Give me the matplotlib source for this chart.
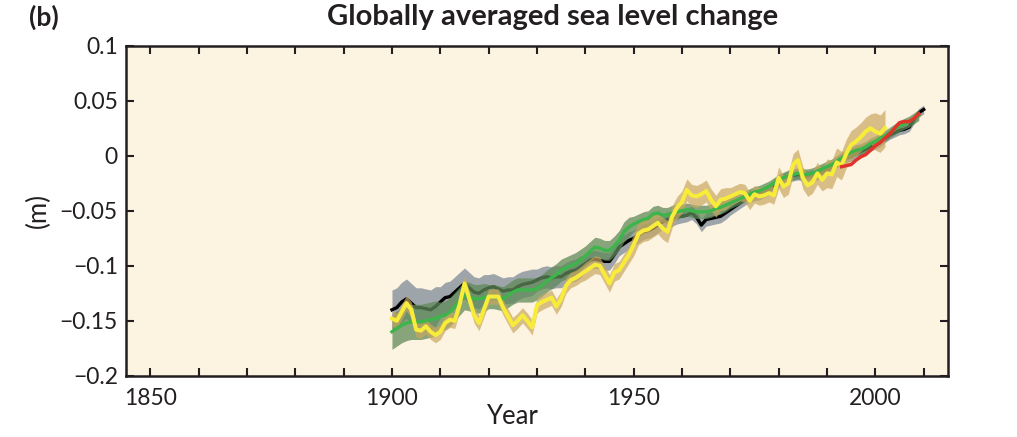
import matplotlib
matplotlib.use("Agg")
import matplotlib.pyplot as plt
import numpy as np

plt.rcParams["font.family"] = ["Lato", "DejaVu Sans"]

# Church & White (black line, grey band)
cw_years = list(range(1900, 2011))
cw_level = [
    -0.140, -0.138, -0.133, -0.130, -0.134, -0.138, -0.138, -0.139, -0.140, -0.137,
    -0.133, -0.129, -0.128, -0.124, -0.120, -0.116, -0.120, -0.124, -0.125, -0.122,
    -0.120, -0.119, -0.121, -0.123, -0.122, -0.122, -0.119, -0.117, -0.116, -0.115,
    -0.113, -0.111, -0.110, -0.111, -0.110, -0.110, -0.107, -0.105, -0.104, -0.101,
    -0.098, -0.095, -0.094, -0.095, -0.096, -0.096, -0.090, -0.083, -0.080, -0.077,
    -0.075, -0.072, -0.069, -0.068, -0.066, -0.063, -0.060, -0.058, -0.057, -0.055,
    -0.055, -0.054, -0.052, -0.056, -0.063, -0.058, -0.057, -0.056, -0.055, -0.052,
    -0.049, -0.046, -0.043, -0.040, -0.037, -0.036, -0.035, -0.033, -0.031, -0.027,
    -0.024, -0.021, -0.019, -0.018, -0.017, -0.018, -0.019, -0.018, -0.017, -0.015,
    -0.013, -0.010, -0.007, -0.004, -0.002, -0.001, 0.002, 0.004, 0.006, 0.008,
    0.010, 0.012, 0.016, 0.019, 0.021, 0.023, 0.024, 0.026, 0.033, 0.039,
    0.042,
]
# half-width of the band, one value per decade (1900s ... 2010)
cw_err_decade = [0.018, 0.014, 0.012, 0.010, 0.008, 0.007, 0.006, 0.005, 0.005, 0.004, 0.004, 0.004]

# Ray & Douglas (green line, green band)
rd_years = list(range(1900, 2010))
rd_level = [
    -0.160, -0.157, -0.154, -0.152, -0.151, -0.151, -0.151, -0.150, -0.149, -0.148,
    -0.146, -0.145, -0.142, -0.137, -0.132, -0.127, -0.128, -0.130, -0.130, -0.129,
    -0.128, -0.128, -0.129, -0.130, -0.127, -0.124, -0.122, -0.122, -0.122, -0.122,
    -0.121, -0.118, -0.114, -0.111, -0.108, -0.104, -0.102, -0.100, -0.098, -0.095,
    -0.091, -0.087, -0.083, -0.084, -0.086, -0.086, -0.082, -0.077, -0.069, -0.065,
    -0.062, -0.060, -0.058, -0.057, -0.053, -0.052, -0.054, -0.054, -0.052, -0.051,
    -0.050, -0.049, -0.050, -0.051, -0.051, -0.051, -0.050, -0.048, -0.047, -0.045,
    -0.043, -0.041, -0.039, -0.037, -0.035, -0.033, -0.032, -0.030, -0.028, -0.025,
    -0.022, -0.020, -0.018, -0.017, -0.016, -0.017, -0.017, -0.016, -0.014, -0.012,
    -0.010, -0.008, -0.005, -0.002, 0.001, 0.003, 0.005, 0.006, 0.008, 0.011,
    0.013, 0.016, 0.018, 0.021, 0.024, 0.027, 0.029, 0.031, 0.034, 0.037,
]
rd_err_decade = [0.016, 0.013, 0.011, 0.010, 0.009, 0.007, 0.006, 0.005, 0.005, 0.005, 0.005]

# Jevrejeva (yellow line, tan band)
jv_years = list(range(1900, 2003))
jv_level = [
    -0.148, -0.150, -0.142, -0.134, -0.140, -0.158, -0.159, -0.155, -0.160, -0.163,
    -0.160, -0.152, -0.149, -0.150, -0.135, -0.116, -0.130, -0.145, -0.152, -0.140,
    -0.128, -0.128, -0.128, -0.138, -0.146, -0.154, -0.150, -0.145, -0.150, -0.156,
    -0.136, -0.133, -0.131, -0.129, -0.137, -0.130, -0.118, -0.113, -0.111, -0.108,
    -0.105, -0.102, -0.099, -0.100, -0.108, -0.116, -0.106, -0.104, -0.097, -0.090,
    -0.081, -0.071, -0.068, -0.067, -0.064, -0.061, -0.066, -0.069, -0.055, -0.047,
    -0.042, -0.031, -0.036, -0.037, -0.035, -0.032, -0.040, -0.046, -0.040, -0.039,
    -0.037, -0.035, -0.033, -0.034, -0.041, -0.035, -0.037, -0.036, -0.034, -0.036,
    -0.020, -0.028, -0.025, -0.008, -0.004, -0.020, -0.027, -0.024, -0.016, -0.022,
    -0.016, -0.017, -0.006, -0.009, 0.002, 0.010, 0.013, 0.017, 0.022, 0.025,
    0.022, 0.020, 0.025,
]
jv_err_decade = [0.007, 0.007, 0.007, 0.007, 0.008, 0.010, 0.010, 0.008, 0.010, 0.013, 0.017]

# satellite altimetry (red line)
sat_years = list(range(1993, 2010))
sat_level = [
    -0.010, -0.009, -0.008, -0.004, -0.001, 0.001, 0.005, 0.009, 0.012,
    0.016, 0.020, 0.025, 0.030, 0.031, 0.031, 0.034, 0.038,
]


def per_year(years, decade_vals):
    return np.array([decade_vals[(y - 1900) // 10] for y in years])


fig = plt.figure(figsize=(10.17, 4.37), dpi=100)
ax = fig.add_axes([0.124, 0.140, 0.808, 0.7555])
ax.set_facecolor("#fdf3e1")

cw = np.array(cw_level)
rd = np.array(rd_level)
jv = np.array(jv_level)
cw_e = per_year(cw_years, cw_err_decade)
rd_e = per_year(rd_years, rd_err_decade)
jv_e = per_year(jv_years, jv_err_decade)

ax.fill_between(cw_years, cw - cw_e, cw + cw_e, color="#9ea5aa", lw=0, zorder=1)
ax.plot(cw_years, cw, color="black", lw=2.4, zorder=2)
ax.fill_between(rd_years, rd - rd_e, rd + rd_e, color="#5f8a58", alpha=0.75, lw=0, zorder=3)
ax.fill_between(jv_years, jv - jv_e, jv + jv_e, color="#c9a860", alpha=0.7, lw=0, zorder=4)
ax.plot(rd_years, rd, color="#3db54a", lw=2.4, zorder=5)
ax.plot(jv_years, jv, color="#f7ec3a", lw=2.9, zorder=6)
ax.plot(sat_years, sat_level, color="#e2332a", lw=2.5, zorder=7)

ax.set_xlim(1845, 2015)
ax.set_ylim(-0.2, 0.1)
ax.set_xticks(range(1850, 2011, 10))
ax.set_xticklabels([str(y) if y % 50 == 0 else "" for y in range(1850, 2011, 10)])
yt = [-0.2, -0.15, -0.1, -0.05, 0, 0.05, 0.1]
ax.set_yticks(yt)
ax.set_yticklabels(["\u22120.2", "\u22120.15", "\u22120.1", "\u22120.05", "0", "0.05", "0.1"])
ax.tick_params(direction="in", length=6, width=1.5, top=True, right=True,
               labelsize=16.5, colors="#231f20")
ax.tick_params(axis="x", pad=9)
ax.tick_params(axis="y", pad=6)
for s in ax.spines.values():
    s.set_linewidth(1.8)
    s.set_color("#231f20")

ax.set_xlabel("Year", fontsize=18.5, color="#231f20", labelpad=-4)
ax.xaxis.set_label_coords(0.47, -0.085)
ax.set_ylabel("(m)", fontsize=18.5, color="#231f20", labelpad=6)

fig.text(0.543, 0.962, "Globally averaged sea level change", ha="center", va="center",
         fontsize=21, fontweight="bold", color="#231f20")
fig.text(0.029, 0.960, "(b)", ha="left", va="center", fontsize=19,
         fontweight="bold", color="#231f20")

fig.savefig("out.png", dpi=100)
